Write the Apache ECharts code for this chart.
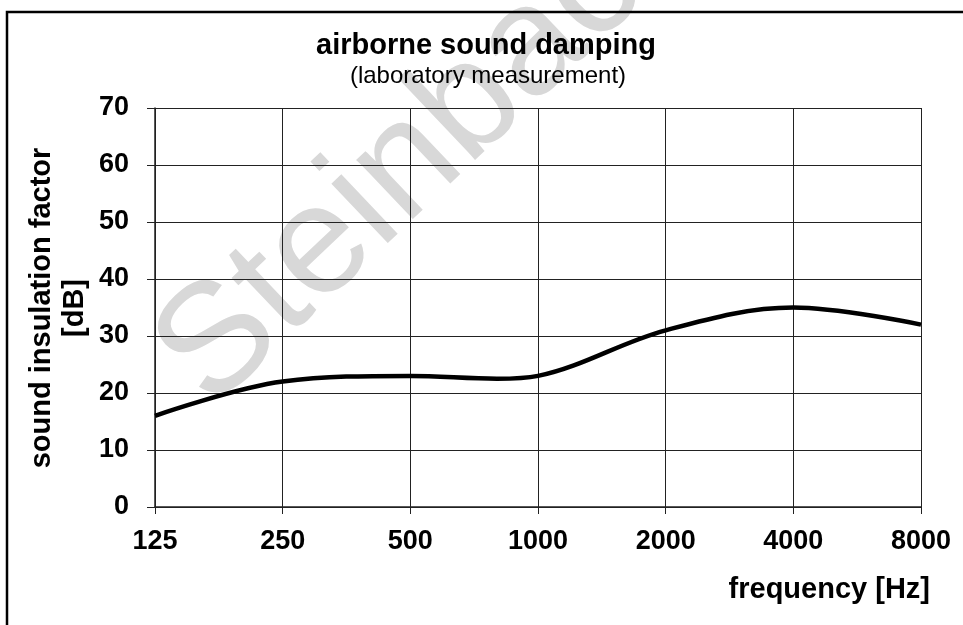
<!DOCTYPE html>
<html><head><meta charset="utf-8">
<script src="https://cdn.jsdelivr.net/npm/echarts@6/dist/echarts.min.js"></script>
<style>html,body{margin:0;padding:0;background:#fff}#c{width:963px;height:625px}</style>
</head><body><div id="c"></div>
<script>
// Data
const frequencies = [125, 250, 500, 800, 1000, 2000, 4000, 8000];
const insulationDb = [16, 22, 23, 22.5, 23, 31, 35, 32];
const xTickLabels = ['125', '250', '500', '1000', '2000', '4000', '8000'];
const yTickValues = [0, 10, 20, 30, 40, 50, 60, 70];

const FONT = '"Liberation Sans", Arial, Helvetica, sans-serif';
const chart = echarts.init(document.getElementById('c'), null, {renderer: 'canvas'});

// octave position relative to the first frequency (log2 frequency scale)
const seriesData = frequencies.map((f, i) => [Math.log2(f / frequencies[0]), insulationDb[i]]);

chart.setOption({
  backgroundColor: '#fff',
  animation: false,
  grid: {left: 155, right: 42, top: 108, bottom: 118, containLabel: false},
  xAxis: {
    type: 'value', min: 0, max: xTickLabels.length - 1, interval: 1,
    axisLine: {show: true, lineStyle: {color: '#222', width: 1.5}},
    axisTick: {show: true, length: 7, lineStyle: {color: '#222', width: 1}},
    splitLine: {show: true, lineStyle: {color: '#222', width: 1}},
    axisLabel: {
      margin: 21, fontSize: 27, fontWeight: 'bold', fontFamily: FONT, color: '#000',
      formatter: v => xTickLabels[Math.round(v)]
    }
  },
  yAxis: {
    type: 'value', min: yTickValues[0], max: yTickValues[yTickValues.length - 1], interval: 10,
    axisLine: {show: true, lineStyle: {color: '#222', width: 1.5}},
    axisTick: {show: true, length: 8, lineStyle: {color: '#222', width: 1}},
    splitLine: {show: true, lineStyle: {color: '#222', width: 1}},
    axisLabel: {margin: 26, fontSize: 27, fontWeight: 'bold', fontFamily: FONT, color: '#000'}
  },
  series: [{
    type: 'line', data: seriesData, smooth: 0.35, showSymbol: false, z: 5,
    lineStyle: {color: '#000', width: 4.5}
  }],
  graphic: [
    {type: 'text', z: -10, x: 432, y: 142, rotation: 43.5 * Math.PI / 180,
     style: {text: 'Steinbach', fontSize: 155, fontFamily: FONT, fill: '#d8d8d8', align: 'center', verticalAlign: 'middle'}},
    {type: 'rect', z: 20, shape: {x: 7, y: 12, width: 1000, height: 700},
     style: {fill: 'none', stroke: '#000', lineWidth: 2.5}},
    {type: 'text', z: 20, x: 486, y: 46,
     style: {text: 'airborne sound damping', fontSize: 29, fontWeight: 'bold', fontFamily: FONT, fill: '#000', align: 'center', verticalAlign: 'middle'}},
    {type: 'text', z: 20, x: 488, y: 76,
     style: {text: '(laboratory measurement)', fontSize: 24, fontFamily: FONT, fill: '#000', align: 'center', verticalAlign: 'middle'}},
    {type: 'text', z: 20, x: 930, y: 590,
     style: {text: 'frequency [Hz]', fontSize: 29, fontWeight: 'bold', fontFamily: FONT, fill: '#000', align: 'right', verticalAlign: 'middle'}},
    {type: 'text', z: 20, x: 58, y: 308, rotation: Math.PI / 2,
     style: {text: 'sound insulation factor\n[dB]', fontSize: 29, lineHeight: 33, fontWeight: 'bold', fontFamily: FONT, fill: '#000', align: 'center', verticalAlign: 'middle'}}
  ]
});
</script></body></html>
